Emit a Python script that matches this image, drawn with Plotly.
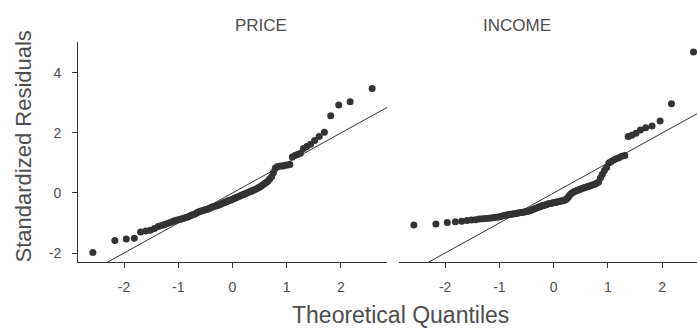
import plotly.graph_objects as go
from statistics import NormalDist

panels = ["PRICE", "INCOME"]

price_resid = [
    -1.98, -1.58, -1.53, -1.51, -1.30, -1.27, -1.24, -1.18, -1.12, -1.08,
    -1.05, -1.02, -0.98, -0.95, -0.92, -0.90, -0.88, -0.86, -0.84, -0.82,
    -0.80, -0.77, -0.74, -0.72, -0.70, -0.66, -0.63, -0.61, -0.60, -0.58,
    -0.56, -0.55, -0.53, -0.51, -0.49, -0.47, -0.45, -0.44, -0.42, -0.41,
    -0.39, -0.37, -0.35, -0.33, -0.31, -0.29, -0.27, -0.25, -0.24, -0.22,
    -0.20, -0.18, -0.16, -0.14, -0.12, -0.10, -0.08, -0.06, -0.04, -0.02,
    0.00, 0.02, 0.04, 0.06, 0.08, 0.10, 0.12, 0.15, 0.18, 0.21,
    0.24, 0.28, 0.32, 0.36, 0.41, 0.47, 0.55, 0.68, 0.82, 0.87,
    0.89, 0.90, 0.90, 0.92, 0.93, 0.95, 1.20, 1.25, 1.28, 1.32,
    1.48, 1.55, 1.62, 1.75, 1.88, 2.02, 2.57, 2.93, 3.04, 3.48,
]

income_resid = [
    -1.07, -1.03, -0.98, -0.96, -0.94, -0.92, -0.90, -0.89, -0.87, -0.86,
    -0.85, -0.84, -0.83, -0.82, -0.81, -0.80, -0.78, -0.76, -0.74, -0.73,
    -0.72, -0.71, -0.70, -0.69, -0.68, -0.67, -0.66, -0.65, -0.64, -0.63,
    -0.62, -0.61, -0.60, -0.58, -0.56, -0.54, -0.52, -0.50, -0.48, -0.46,
    -0.45, -0.43, -0.42, -0.40, -0.39, -0.37, -0.36, -0.35, -0.34, -0.33,
    -0.32, -0.31, -0.30, -0.29, -0.28, -0.27, -0.26, -0.25, -0.23, -0.20,
    -0.14, -0.08, -0.03, 0.01, 0.04, 0.06, 0.08, 0.10, 0.12, 0.14,
    0.16, 0.18, 0.20, 0.21, 0.23, 0.25, 0.27, 0.29, 0.32, 0.36,
    0.50, 0.62, 0.75, 0.85, 1.00, 1.05, 1.10, 1.14, 1.17, 1.22,
    1.25, 1.88, 1.92, 1.99, 2.10, 2.17, 2.23, 2.40, 2.97, 4.70,
]

x_ticks = [-2, -1, 0, 1, 2]
x_tick_text = ["-2", "-1", "0", "1", "2"]
y_ticks = [-2, 0, 2, 4]
y_tick_text = ["-2", "0", "2", "4"]
ref_line_x = [-3.5, 3.5]   # reference line y = x
ref_line_y = [-3.5, 3.5]


def theoretical_quantiles(n):
    nd = NormalDist()
    return [nd.inv_cdf((i - 0.5) / n) for i in range(1, n + 1)]


W, H = 697, 329
ml, mr, mt, mb = 78, 0, 42, 67
pw = W - ml - mr
left_dom = [0, 309 / pw]
right_dom = [321 / pw, 1]

dark = "#333333"
grey = "#4d4d4d"
FONT = "Liberation Sans, Arial, sans-serif"

fig = go.Figure()
series = [price_resid, income_resid]
axes = [("x", "y"), ("x2", "y2")]
for resid, (xa, ya) in zip(series, axes):
    tq = theoretical_quantiles(len(resid))
    fig.add_trace(go.Scatter(
        x=ref_line_x, y=ref_line_y, mode="lines",
        line=dict(color=dark, width=1), xaxis=xa, yaxis=ya,
        showlegend=False, hoverinfo="skip"))
    fig.add_trace(go.Scatter(
        x=tq, y=sorted(resid), mode="markers",
        marker=dict(color=dark, size=7, line=dict(width=0)),
        xaxis=xa, yaxis=ya, showlegend=False, cliponaxis=True))

yrange = [-2.3, 5.03]
xcommon = dict(showline=True, linecolor=dark, linewidth=1, ticks="outside",
               ticklen=5, tickcolor=dark, tickwidth=1, tickvals=x_ticks,
               ticktext=x_tick_text,
               showgrid=False, zeroline=False,
               tickfont=dict(size=14, color=grey, family=FONT),
               ticklabelstandoff=7)
fig.update_layout(
    width=W, height=H,
    margin=dict(l=ml, r=mr, t=mt, b=mb),
    plot_bgcolor="white", paper_bgcolor="white",
    font=dict(family=FONT, color=grey),
    xaxis=dict(domain=left_dom, range=[-2.85, 2.85], anchor="y", **xcommon),
    xaxis2=dict(domain=right_dom, range=[-2.85, 2.64], anchor="y2", **xcommon),
    yaxis=dict(domain=[0, 1], range=yrange, anchor="x", showline=True,
               linecolor=dark, linewidth=1, ticks="outside", ticklen=5,
               tickcolor=dark, tickvals=y_ticks, ticktext=y_tick_text,
               showgrid=False, zeroline=False, ticklabelstandoff=8,
               tickfont=dict(size=14, color=grey, family=FONT)),
    yaxis2=dict(domain=[0, 1], range=yrange, anchor="x2", showline=False,
                showticklabels=False, ticks="", showgrid=False,
                zeroline=False, matches="y"),
    annotations=[
        dict(text=panels[0], x=(232.5 - ml) / pw, xref="paper",
             y=1, yref="paper", yanchor="middle", yshift=42 - 25,
             showarrow=False, font=dict(size=17, color=grey, family=FONT)),
        dict(text=panels[1], x=(553 - ml) / pw, xref="paper",
             y=1, yref="paper", yanchor="middle", yshift=42 - 25,
             showarrow=False, font=dict(size=17, color=grey, family=FONT)),
        dict(text="Theoretical Quantiles", x=(400 - ml) / pw, xref="paper",
             y=0, yref="paper", yanchor="middle", yshift=-(315 - 262),
             showarrow=False,
             font=dict(size=23, color=grey, family=FONT)),
        dict(text="Standardized Residuals", x=0, xref="paper",
             xanchor="center", xshift=-(78 - 23),
             y=(262 - 146.5) / (262 - 42), yref="paper", yanchor="middle",
             showarrow=False, textangle=-90,
             font=dict(size=22, color=grey, family=FONT)),
    ],
)
fig.write_html("out.html")
